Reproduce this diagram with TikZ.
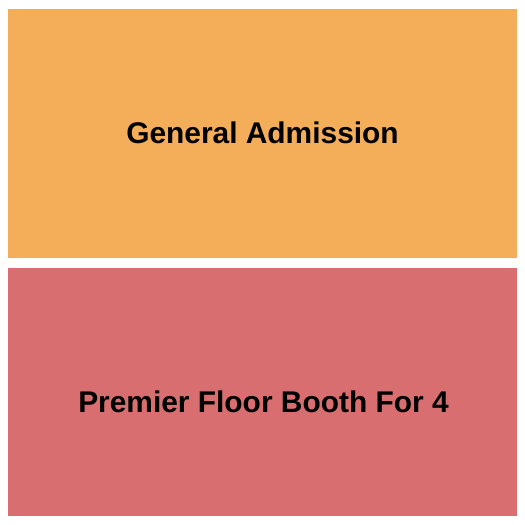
\documentclass[tikz,border=0pt]{standalone}
\usepackage{fontspec}
\setmainfont{Liberation Sans}
\definecolor{gaorange}{HTML}{F4AE5A}
\definecolor{boothred}{HTML}{D96E70}
\begin{document}
\begin{tikzpicture}[x=1pt,y=-1pt,
  zone/.style={inner sep=0pt, outer sep=0pt},
  zonelabel/.style={font=\fontsize{29.9}{34}\selectfont\bfseries, text=black}]
\useasboundingbox (0,0) rectangle (525,525);
\fill[white] (0,0) rectangle (525,525);
\fill[gaorange] (8,8.5) rectangle (517,257.5);
\fill[boothred] (8,268) rectangle (517,516);
\node[zonelabel] (ga) at (262.5,133) {General Admission};
\node[zonelabel] (booth) at (263.5,402) {Premier Floor Booth For 4};
\end{tikzpicture}
\end{document}
